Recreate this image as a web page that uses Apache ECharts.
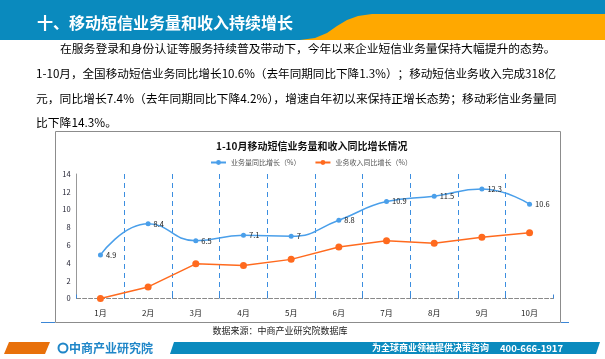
<!DOCTYPE html>
<html><head><meta charset="utf-8">
<script src="https://cdn.jsdelivr.net/npm/echarts/dist/echarts.min.js"></script>
<style>html,body{margin:0;padding:0;background:#fff;}#c{width:605px;height:359px;}</style>
</head><body><div id="c"></div>
<script>
const categories = ['1月','2月','3月','4月','5月','6月','7月','8月','9月','10月'];
const volumeGrowth = [4.9, 8.4, 6.5, 7.1, 7, 8.8, 10.9, 11.5, 12.3, 10.6];
const revenueGrowth = [0, 1.3, 3.9, 3.7, 4.4, 5.8, 6.5, 6.2, 6.9, 7.4];
const yMin = 0, yMax = 14, yInterval = 2;
const seriesNames = ['业务量同比增长（%）', '业务收入同比增长（%）'];
const headerTitle = '十、移动短信业务量和收入持续增长';
const paragraphLines = [
  '在服务登录和身份认证等服务持续普及带动下，今年以来企业短信业务量保持大幅提升的态势。',
  '1-10月，全国移动短信业务同比增长10.6%（去年同期同比下降1.3%）；移动短信业务收入完成318亿',
  '元，同比增长7.4%（去年同期同比下降4.2%），增速自年初以来保持正增长态势；移动彩信业务量同',
  '比下降14.3%。'
];
const chartTitle = '1-10月移动短信业务量和收入同比增长情况';
const sourceText = '数据来源：中商产业研究院数据库';
const brandName = '中商产业研究院';
const slogan = '为全球商业领袖提供决策咨询';
const phone = '400-666-1917';

const FONT = '"Noto Sans CJK SC", "Noto Sans", sans-serif';
const chart = echarts.init(document.getElementById('c'), null, {renderer: 'canvas'});

const orangeShape = [[300, 40], [315, 38], [327, 33], [337, 26], [347, 20], [358, 16], [372, 14], [605, 14], [605, 40]];

const graphics = [
  {type: 'rect', shape: {x: 0, y: 0, width: 605, height: 40}, style: {fill: '#0A8ABE'}, z: 0},
  {type: 'polygon', shape: {points: orangeShape}, style: {fill: '#FFA800'}, z: 1},
  {type: 'text', x: 37, y: 23, style: {text: headerTitle, fill: '#fff', font: 'bold 16px ' + FONT, textAlign: 'left', textVerticalAlign: 'middle'}, z: 2},
  {type: 'text', x: 60, y: 49, style: {text: paragraphLines[0], fill: '#000', font: '11.8px ' + FONT, textVerticalAlign: 'middle'}},
  {type: 'text', x: 36, y: 74, style: {text: paragraphLines[1], fill: '#000', font: '11.6px ' + FONT, textVerticalAlign: 'middle'}},
  {type: 'text', x: 36, y: 99, style: {text: paragraphLines[2], fill: '#000', font: '11.8px ' + FONT, textVerticalAlign: 'middle'}},
  {type: 'text', x: 36, y: 123, style: {text: paragraphLines[3], fill: '#000', font: '11.8px ' + FONT, textVerticalAlign: 'middle'}},
  {type: 'rect', shape: {x: 55.5, y: 131.5, width: 505, height: 191}, style: {fill: 'none', stroke: '#8c8c8c', lineWidth: 1}},
  {type: 'line', shape: {x1: 41, y1: 322.5, x2: 55, y2: 322.5}, style: {stroke: '#3b86d6', lineWidth: 1}},
  {type: 'line', shape: {x1: 561, y1: 322.5, x2: 569, y2: 322.5}, style: {stroke: '#3b86d6', lineWidth: 1}},
  {type: 'text', x: 280, y: 331, style: {text: sourceText, fill: '#222', font: '9px ' + FONT, textAlign: 'center', textVerticalAlign: 'middle'}},
  {type: 'polygon', shape: {points: [[4, 354], [9, 342], [50, 342], [45, 354]]}, style: {fill: '#E8700A'}},
  {type: 'circle', shape: {cx: 63, cy: 348, r: 4.5}, style: {fill: 'none', stroke: '#1F86C8', lineWidth: 2}},
  {type: 'text', x: 69, y: 348, style: {text: brandName, fill: '#1F86C8', font: 'bold 12px ' + FONT, textVerticalAlign: 'middle'}},
  {type: 'polygon', shape: {points: [[170, 354], [174, 342], [600, 342], [596, 354]]}, style: {fill: '#0A8ABE'}},
  {type: 'text', x: 372, y: 348, style: {text: slogan, fill: '#fff', font: 'bold 9px ' + FONT, textVerticalAlign: 'middle'}},
  {type: 'text', x: 500, y: 348, style: {text: phone, fill: '#fff', font: 'bold 9.5px ' + FONT, textVerticalAlign: 'middle'}}
];

chart.setOption({
  animation: false,
  backgroundColor: '#fff',
  textStyle: {fontFamily: FONT},
  title: {
    text: chartTitle, left: 211, top: 136,
    textStyle: {fontSize: 10, fontWeight: 'bold', color: '#111', fontFamily: FONT}
  },
  legend: {
    left: 205, top: 154, itemWidth: 15, itemHeight: 6, itemGap: 14,
    textStyle: {fontSize: 7, color: '#555', fontFamily: FONT},
    data: seriesNames
  },
  grid: {left: 76.6, right: 51.6, top: 174, bottom: 60.5, containLabel: false},
  xAxis: {
    type: 'category', data: categories, boundaryGap: true,
    axisLine: {lineStyle: {color: '#888', type: 'dashed', width: 1}},
    axisTick: {show: true, inside: true, length: 4, lineStyle: {color: '#3b86d6'}},
    axisLabel: {fontSize: 8, color: '#222', margin: 10, fontFamily: FONT},
    splitLine: {show: true, showMinLine: false, showMaxLine: false, lineStyle: {color: '#3b8ee0', type: [5, 4], width: 1}}
  },
  yAxis: {
    type: 'value', min: yMin, max: yMax, interval: yInterval,
    axisLine: {show: true, lineStyle: {color: '#999'}},
    axisTick: {show: false},
    axisLabel: {fontSize: 7.5, color: '#223', margin: 6, fontFamily: FONT},
    splitLine: {show: false}
  },
  series: [
    {
      name: seriesNames[0], type: 'line', data: volumeGrowth, smooth: 0.5,
      symbol: 'circle', symbolSize: 5,
      itemStyle: {color: '#4A9FEA'},
      lineStyle: {color: '#4A9FEA', width: 1.5},
      label: {show: true, position: 'right', distance: 3, fontSize: 7.5, color: '#222', fontFamily: FONT},
      z: 3
    },
    {
      name: seriesNames[1], type: 'line', data: revenueGrowth, smooth: false,
      symbol: 'circle', symbolSize: 7,
      itemStyle: {color: '#FF6A1E'},
      lineStyle: {color: '#FF6A1E', width: 1.5},
      z: 3
    }
  ],
  graphic: graphics
});
</script></body></html>
